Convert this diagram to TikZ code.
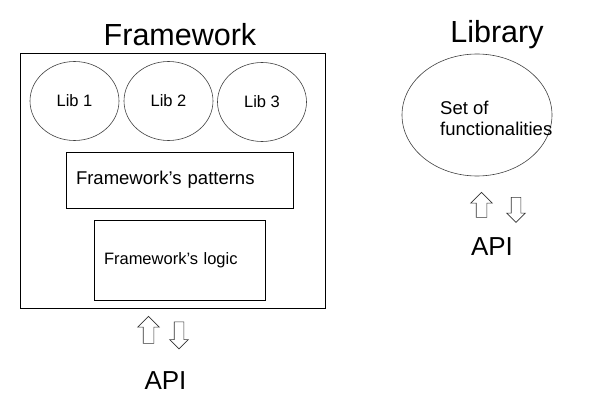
\documentclass[tikz,border=0pt]{standalone}
\usepackage{fontspec}
\setmainfont{Liberation Sans}
\usetikzlibrary{shapes.geometric,shapes.arrows}

\begin{document}
\begin{tikzpicture}[x=1pt, y=-1pt]
    \tikzstyle{libell} = [ellipse, draw=black!75, line width=0.6pt, inner sep=0pt, minimum width=89pt, minimum height=79pt, font=\fontsize{16.5}{19}\selectfont]
    \tikzstyle{layer} = [rectangle, draw, line width=0.8pt, inner ysep=0pt, inner xsep=10pt, align=left, font=\fontsize{18.5}{21}\selectfont]
    \tikzstyle{title} = [anchor=base, inner sep=0pt, font=\fontsize{30.5}{35}\selectfont]
    \tikzstyle{apitext} = [anchor=base, inner sep=0pt, font=\fontsize{26}{30}\selectfont]
    \tikzstyle{blockarr} = [single arrow, draw=black!80, line width=0.6pt, inner xsep=0pt, inner ysep=5pt, minimum width=0pt, minimum height=27pt, single arrow head extend=5.5pt]

    \useasboundingbox (0,0) rectangle (608,409);

    % Framework
    \node[title] (fwtitle) at (180,45.5) {Framework};
    \node[draw, line width=0.8pt, minimum width=304.5pt, minimum height=255pt] (fw) at (172.75,180.5) {};

    % Libraries inside the framework
    \node[libell] (lib1) at (74.5,101) {Lib 1};
    \node[libell] (lib2) at (168.5,101) {Lib 2};
    \node[libell] (lib3) at (262,102) {Lib 3};

    % Layers
    \node[layer, text width=207pt, minimum height=56pt] (patterns) at (179.5,180) {Framework’s patterns};
    \node[layer, text width=151pt, minimum height=80pt, font=\fontsize{16.5}{19}\selectfont] (logic) at (179.5,260) {Framework’s logic};

    % API of the framework
    \node[blockarr, rotate=90] (fwup) at (148.5,332.5) {};
    \node[blockarr, rotate=-90, inner ysep=4.5pt, single arrow head extend=4.5pt] (fwdown) at (179,333) {};
    \node[apitext] (fwapi) at (165.5,389.3) {API};

    % Library
    \node[title] (libtitle) at (497,42.3) {Library};
    \node[ellipse, draw=black!75, line width=0.6pt, minimum width=150pt, minimum height=122pt] (libset) at (477,115) {};
    \node[anchor=west, align=left, inner sep=0pt, font=\fontsize{18.5}{21}\selectfont] (funcs) at (440,118) {Set of\\functionalities};

    % API of the library
    \node[blockarr, rotate=90, minimum height=25pt] (libup) at (481.5,207.5) {};
    \node[blockarr, rotate=-90, minimum height=25pt, inner ysep=4.5pt, single arrow head extend=4.5pt] (libdown) at (516,207.5) {};
    \node[apitext] (libapi) at (492,255) {API};

\end{tikzpicture}
\end{document}
